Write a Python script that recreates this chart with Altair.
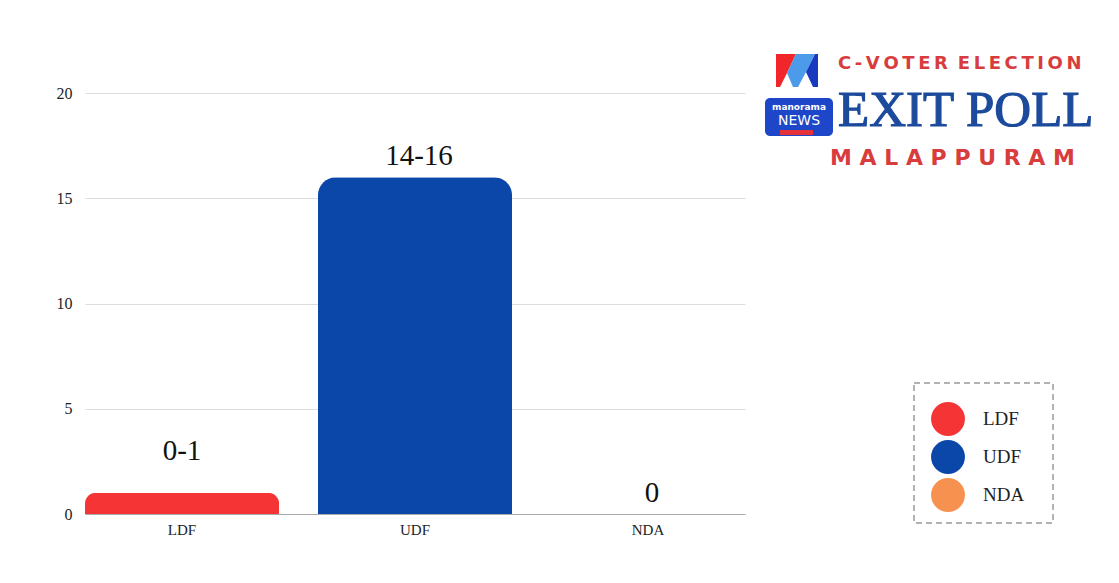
import altair as alt
import pandas as pd

parties = ["LDF", "UDF", "NDA"]
seats = [1, 16, 0]
seat_labels = ["0-1", "14-16", "0"]
colors = ["#F53535", "#0A47A9", "#F7914F"]

df = pd.DataFrame({"party": parties, "seats": seats, "label": seat_labels})
one = pd.DataFrame({"k": [0]})

SERIF = "Liberation Serif"

x_enc = alt.X("party:N", sort=parties, title=None,
              scale=alt.Scale(paddingInner=0.167, paddingOuter=0),
              axis=alt.Axis(labelAngle=0, ticks=False, domain=True, domainColor="#aaaaaa",
                            labelFont=SERIF, labelFontSize=15, labelColor="#222222",
                            labelPadding=8, grid=False))
y_enc = alt.Y("seats:Q", title=None,
              scale=alt.Scale(domain=[0, 20]),
              axis=alt.Axis(values=[0, 5, 10, 15, 20], ticks=False, domain=False,
                            labelFont=SERIF, labelFontSize=16, labelColor="#222222",
                            labelPadding=13, gridColor="#dddddd", gridWidth=1))

color_enc = alt.Color("party:N", sort=parties,
                      scale=alt.Scale(domain=parties, range=colors),
                      legend=alt.Legend(orient="none", legendX=846, legendY=309, title=None,
                                        symbolType="circle", symbolSize=1150,
                                        symbolStrokeWidth=0, symbolOpacity=1,
                                        labelFont=SERIF, labelFontSize=19,
                                        labelColor="#222222", labelOffset=18,
                                        rowPadding=4, padding=0))

bars = alt.Chart(df).mark_bar(cornerRadiusTopLeft=18, cornerRadiusTopRight=18).encode(
    x=x_enc, y=y_enc, color=color_enc)

txt_main = alt.Chart(df).transform_filter("datum.party != 'LDF'").mark_text(
    font=SERIF, fontSize=29, color="#111111", baseline="alphabetic", dy=-12, dx=4).encode(
    x=alt.X("party:N", sort=parties), y="seats:Q", text="label:N")
txt_ldf = alt.Chart(df).transform_filter("datum.party == 'LDF'").mark_text(
    font=SERIF, fontSize=29, color="#111111", baseline="alphabetic", dy=-33).encode(
    x=alt.X("party:N", sort=parties), y="seats:Q", text="label:N")

# legend dashed box
legend_box = alt.Chart(one).mark_rect(fill=None, stroke="#999999", strokeWidth=1.5,
                                     strokeDash=[6, 4]).encode(
    x=alt.value(829), x2=alt.value(968), y=alt.value(290), y2=alt.value(430))

# logo icon
def poly(path, col):
    return alt.Chart(one).mark_point(shape=path, size=4, filled=True, color=col,
                                     opacity=1, strokeWidth=0).encode(
        x=alt.value(-85), y=alt.value(-93))

icon_red = poly("M776,54L796,54L787,73L780,87L776,87Z", "#F0262B")
icon_lb = poly("M796,54L815,54L806,72L798,87L793,87L787,73Z", "#4C9BEA")
icon_blue = poly("M815,54L818,54L818,87L813,87L806,72Z", "#1838C0")

news_box = alt.Chart(one).mark_rect(color="#1E46C8", cornerRadius=5).encode(
    x=alt.value(680), x2=alt.value(748), y=alt.value(5), y2=alt.value(43))
news_bar = alt.Chart(one).mark_rect(color="#E5323A").encode(
    x=alt.value(695), x2=alt.value(728), y=alt.value(37), y2=alt.value(42))
manorama = alt.Chart(one).mark_text(text="manorama", font="DejaVu Sans", fontWeight="bold",
                                    fontSize=9, color="white").encode(
    x=alt.value(714), y=alt.value(14))
news = alt.Chart(one).mark_text(text="NEWS", font="DejaVu Sans", fontSize=14,
                                color="white").encode(
    x=alt.value(714), y=alt.value(28))

hs = "\u2009"
cvoter = alt.Chart(one).mark_text(text=hs.join("C-VOTER") + " " + hs + hs.join("ELECTION"),
                                  font="DejaVu Sans", fontWeight="bold", fontSize=18,
                                  color="#D83C3C", align="left", baseline="middle").encode(
    x=alt.value(753), y=alt.value(-29))
exitpoll = alt.Chart(one).mark_text(text="EXIT POLL", font=SERIF, fontSize=51,
                                    color="#1C4A9C", stroke="#1C4A9C", strokeWidth=1.2,
                                    align="left", baseline="alphabetic").encode(
    x=alt.value(753), y=alt.value(33))
malap = alt.Chart(one).mark_text(text=" ".join("MALAPPURAM"), font="DejaVu Sans",
                                 fontWeight="bold", fontSize=22, color="#D83C3C",
                                 align="left", baseline="middle").encode(
    x=alt.value(745), y=alt.value(65))

chart = alt.layer(
    bars, txt_main, txt_ldf, legend_box,
    icon_red, icon_lb, icon_blue, news_box, news_bar, manorama, news,
    cvoter, exitpoll, malap
).properties(
    width=660, height=421,
    autosize=alt.AutoSizeParams(type="none"),
    padding={"left": 77, "top": 85, "right": 360, "bottom": 60},
    background="white"
).configure_view(stroke=None)

chart.save("out.html", embed_options={"renderer": "svg", "actions": False})
